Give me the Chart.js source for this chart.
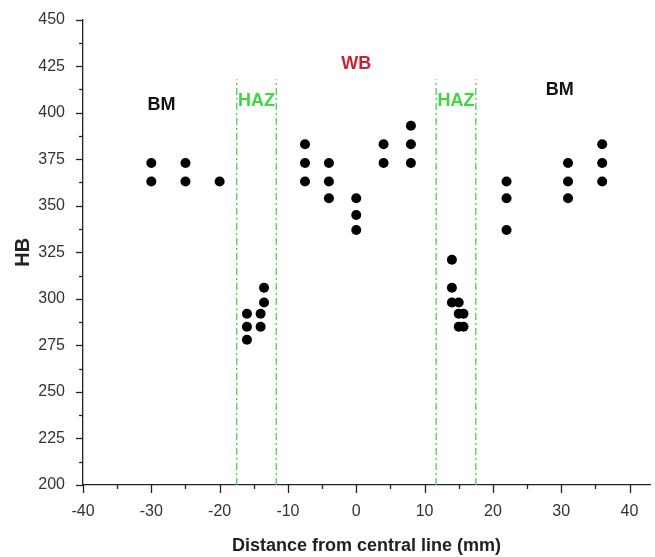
<!DOCTYPE html>
<html>
<head>
<meta charset="utf-8">
<script src="https://cdn.jsdelivr.net/npm/chart.js@4.4.0/dist/chart.umd.min.js"></script>
<style>
    html, body { margin: 0; padding: 0; background: #fff; }
    #wrap { width: 655px; height: 557px; }
</style>
</head>
<body>
<div id="wrap"><canvas id="grafico" width="655" height="557"></canvas></div>
<script>
// datos
const bmIzqX = [-30, -30, -25, -25, -20];
const bmIzqY = [373, 363, 373, 363, 363];

const hazIzqX = [-16, -16, -16, -14, -14, -13.5, -13.5];
const hazIzqY = [292, 285, 278, 292, 285, 306, 298];

const wbX = [-7.5, -7.5, -7.5, -4, -4, -4, 0, 0, 0, 4, 4, 8, 8, 8];
const wbY = [383, 373, 363, 373, 363, 354, 354, 345, 337, 383, 373, 393, 383, 373];

const hazDerX = [14, 14, 14, 15, 15, 15.7, 15, 15.7];
const hazDerY = [321, 306, 298, 298, 292, 292, 285, 285];

const bmDerX = [22, 22, 22, 31, 31, 31, 36, 36, 36];
const bmDerY = [363, 354, 337, 373, 363, 354, 383, 373, 363];

const limitesHaz = [-17.5, -11.7, 11.7, 17.5];
const limiteHazY = [200, 418];

const ticksX = [-40, -30, -20, -10, 0, 10, 20, 30, 40];
const ticksY = [200, 225, 250, 275, 300, 325, 350, 375, 400, 425, 450];

const etiquetas = ['BM', 'HAZ', 'WB', 'HAZ', 'BM'];
const etiquetasX = [-28.5, -14.6, 0, 14.6, 29.8];
const etiquetasY = [404, 406, 426, 406, 412];
const etiquetasColor = ['#111111', '#3fd63f', '#c8242f', '#3fd63f', '#111111'];

const puntos = (xs, ys) => xs.map((x, i) => ({ x, y: ys[i] }));

const crearPuntos = (label, xs, ys) => ({
    type: 'scatter',
    label,
    data: puntos(xs, ys),
    backgroundColor: '#000',
    borderColor: '#000',
    pointRadius: 5,
    pointHoverRadius: 5,
    borderWidth: 0
});

const lineasHaz = limitesHaz.map((x, i) => ({
    type: 'line',
    label: 'haz' + i,
    data: [{ x, y: limiteHazY[0] }, { x, y: limiteHazY[1] }],
    borderColor: '#5ccf5c',
    borderWidth: 1.4,
    borderDash: [7, 3, 2, 3],
    pointRadius: 0,
    fill: false
}));

// ticks mayores y menores dibujados a mano
const pluginTicks = {
    id: 'ticksManual',
    afterDraw(chart) {
        const { ctx, scales: { x, y }, chartArea } = chart;
        ctx.save();
        ctx.strokeStyle = '#222';
        ctx.lineWidth = 1.3;
        for (let v = -40; v <= 40; v += 5) {
            const px = Math.round(x.getPixelForValue(v)) + 0.5;
            const len = v % 10 === 0 ? 8 : 4;
            ctx.beginPath();
            ctx.moveTo(px, chartArea.bottom);
            ctx.lineTo(px, chartArea.bottom + len);
            ctx.stroke();
        }
        for (let v = 200; v <= 450; v += 12.5) {
            const py = Math.round(y.getPixelForValue(v)) + 0.5;
            const len = v % 25 === 0 ? 7 : 4;
            ctx.beginPath();
            ctx.moveTo(chartArea.left, py);
            ctx.lineTo(chartArea.left - len, py);
            ctx.stroke();
        }
        // etiquetas de zonas
        ctx.font = 'bold 18px "Liberation Sans", Arial, sans-serif';
        ctx.textAlign = 'center';
        ctx.textBaseline = 'middle';
        etiquetas.forEach((t, i) => {
            ctx.fillStyle = etiquetasColor[i];
            ctx.fillText(t, x.getPixelForValue(etiquetasX[i]), y.getPixelForValue(etiquetasY[i]));
        });
        ctx.restore();
    }
};

const fuente = { family: '"Liberation Sans", Arial, sans-serif', size: 16 };

new Chart(document.getElementById('grafico').getContext('2d'), {
    data: {
        datasets: [
            ...lineasHaz,
            crearPuntos('BM', bmIzqX, bmIzqY),
            crearPuntos('HAZ', hazIzqX, hazIzqY),
            crearPuntos('WB', wbX, wbY),
            crearPuntos('HAZ', hazDerX, hazDerY),
            crearPuntos('BM', bmDerX, bmDerY)
        ]
    },
    options: {
        responsive: false,
        animation: false,
        layout: { padding: { top: 17, right: 4, left: 11, bottom: 0 } },
        plugins: { legend: { display: false }, tooltip: { enabled: false } },
        scales: {
            x: {
                type: 'linear',
                min: -40,
                max: 43,
                afterBuildTicks: (s) => { s.ticks = ticksX.map(v => ({ value: v })); },
                afterFit: (s) => { s.height = 72; },
                grid: { display: false },
                border: { display: true, color: '#222', width: 1.3 },
                ticks: { color: '#333', font: fuente, padding: 9, maxRotation: 0 },
                title: {
                    display: true,
                    text: 'Distance from central line (mm)',
                    color: '#222',
                    font: { family: '"Liberation Sans", Arial, sans-serif', size: 18, weight: 'bold' },
                    padding: { top: 10, bottom: 0 }
                }
            },
            y: {
                type: 'linear',
                min: 200,
                max: 450,
                afterBuildTicks: (s) => { s.ticks = ticksY.map(v => ({ value: v })); },
                afterFit: (s) => { s.width = 72; },
                grid: { display: false },
                border: { display: true, color: '#222', width: 1.3 },
                ticks: { color: '#333', font: fuente, padding: 10 },
                title: {
                    display: true,
                    text: 'HB',
                    color: '#222',
                    font: { family: '"Liberation Sans", Arial, sans-serif', size: 20, weight: 'bold' },
                    padding: { top: 0, bottom: 4 }
                }
            }
        }
    },
    plugins: [pluginTicks]
});
</script>
</body>
</html>
